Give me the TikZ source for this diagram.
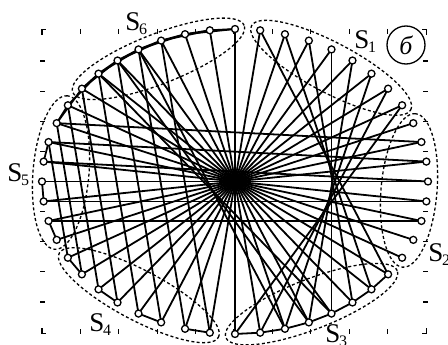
\documentclass[tikz,border=0pt]{standalone}
\usepackage{fontspec}
\setmainfont{Liberation Serif}
\pgfdeclarelayer{bg}
\pgfsetlayers{bg,main}
\begin{document}
\begin{tikzpicture}[x=1pt,y=-1pt,
  vert/.style={circle, draw, line width=1.3pt, fill=white, inner sep=0pt, minimum size=7pt,
    path picture={\fill (path picture bounding box.center) circle (1pt);}},
  edge/.style={line width=1.8pt},
  grp/.style={line width=1.3pt, dash pattern=on 3pt off 2.4pt},
  tickmark/.style={line width=1.2pt},
  slab/.style={inner sep=0pt, font=\fontsize{27pt}{27pt}\selectfont},
  sublab/.style={inner sep=0pt, font=\fontsize{16pt}{16pt}\selectfont}]
\useasboundingbox (0,0) rectangle (448,345);
% frame ticks
\foreach \i in {1,...,9} {
  \draw[tickmark] ({42+38.4*\i},29) -- ({42+38.4*\i},34);
  \draw[tickmark] ({42+38.4*\i},329) -- ({42+38.4*\i},334);
  \draw[tickmark] (40,{31+30.1*\i}) -- (45,{31+30.1*\i});
  \draw[tickmark] (423,{31+30.1*\i}) -- (428,{31+30.1*\i});
}
\draw[tickmark] (42,35) -- (42,29.5) -- (46,29.5);
\draw[tickmark] (422,29.5) -- (426.5,29.5) -- (426.5,35);
\draw[tickmark] (42,328) -- (42,333.5) -- (46,333.5);
\draw[tickmark] (422,333.5) -- (426.5,333.5) -- (426.5,328);
% group enclosures
\draw[grp, rotate around={-27.84:(331.15,67.8)}] (331.15,67.8) ellipse [x radius=90pt, y radius=25pt];
\draw[grp, rotate around={21.3:(311.55,304.15)}] (311.55,304.15) ellipse [x radius=92pt, y radius=25pt];
\draw[grp, rotate around={-27.84:(138.85,295.2)}] (138.85,295.2) ellipse [x radius=90pt, y radius=25pt];
\draw[grp, rotate around={21.3:(158.45,58.85)}] (158.45,58.85) ellipse [x radius=92pt, y radius=25pt];
\draw[grp, rotate around={85.24:(409,190.45)}] (409,190.45) ellipse [x radius=77pt, y radius=28pt];
\draw[grp, rotate around={85.24:(61,172.55)}] (61,172.55) ellipse [x radius=77pt, y radius=28pt];
% vertices
\foreach \k in {0,...,47} {
  \node[vert] (n\k) at ({235+193*cos(7.5*\k)},{181.5-152.5*sin(7.5*\k)}) {};
}
% edges
\begin{pgfonlayer}{bg}
\foreach \k in {0,...,23} {
  \pgfmathtruncatemacro{\m}{\k+24}
  \draw[edge] (n\k.center) -- (n\m.center);
}
% S1 -- S3 fan
\foreach \k in {4,...,11} {
  \pgfmathtruncatemacro{\m}{\k+32}
  \draw[edge] (n\k.center) -- (n\m.center);
}
% S4 -- S6/S5
\foreach \k in {28,...,35} {
  \pgfmathtruncatemacro{\m}{50-\k}
  \draw[edge] (n\k.center) -- (n\m.center);
}
% S6 band and S6 -- S3
\foreach \a/\b in {12/14,13/15,14/16,15/17,16/18,17/19,18/20,19/21,
                   16/38,17/39,18/40} {
  \draw[edge] (n\a.center) -- (n\b.center);
}
% S5 -- S2
\foreach \a/\b in {21/2,22/1,23/0,25/47,26/46} {
  \draw[edge] (n\a.center) -- (n\b.center);
}
% inside the sets
\foreach \a/\b in {12/13,13/14,14/15,15/16,16/17,17/18,18/19,
                   36/37,37/38,38/39,39/40,40/41,41/42,42/43,
                   28/29,30/31,32/33,34/35,20/21,22/23,24/25,26/27} {
  \draw[edge] (n\a.center) -- (n\b.center);
}
\end{pgfonlayer}
% labels
\node[slab] (s1) at (362,40) {S};
\node[sublab, anchor=west] (s1i) at (368,47) {1};
\node[slab] (s2) at (436,253) {S};
\node[sublab, anchor=west] (s2i) at (442,260) {2};
\node[slab] (s3) at (333,334) {S};
\node[sublab, anchor=west] (s3i) at (339,341) {3};
\node[slab] (s4) at (97,323) {S};
\node[sublab, anchor=west] (s4i) at (103,330) {4};
\node[slab] (s5) at (15,173) {S};
\node[sublab, anchor=west] (s5i) at (21,180) {5};
\node[slab] (s6) at (133,22) {S};
\node[sublab, anchor=west] (s6i) at (139,29) {6};
\node[circle, draw, line width=1.3pt, minimum size=38pt, inner sep=0pt,
      font=\fontsize{26pt}{26pt}\selectfont\itshape] (tag) at (406,45) {б};
\end{tikzpicture}
\end{document}
